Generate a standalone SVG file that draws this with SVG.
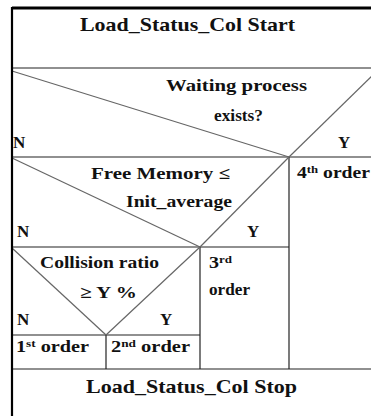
<svg xmlns="http://www.w3.org/2000/svg" width="371" height="416" viewBox="0 0 371 416">
<style>
text{font-family:"Liberation Serif","Times New Roman",serif;font-weight:bold;font-size:17px;fill:#111}
.big{font-size:19px}
.sup{font-size:11px}
.sep{stroke:#222;stroke-width:1.2;fill:none}
.diag{stroke:#666;stroke-width:1.2;fill:none}
.frame{stroke:#000;fill:none}
</style>
<rect width="371" height="416" fill="#fff"/>
<g id="connectors">
<line class="sep" x1="12" y1="68" x2="371" y2="68"/>
<line class="sep" x1="12" y1="157" x2="371" y2="157"/>
<line class="sep" x1="12" y1="247" x2="289" y2="247"/>
<line class="sep" x1="12" y1="335" x2="200" y2="335"/>
<line class="sep" x1="12" y1="369" x2="371" y2="369"/>
<line class="sep" x1="289" y1="157" x2="289" y2="369"/>
<line class="sep" x1="200" y1="247" x2="200" y2="369"/>
<line class="sep" x1="106" y1="335" x2="106" y2="369"/>
<line class="diag" x1="12" y1="71" x2="289" y2="157"/>
<line class="diag" x1="289" y1="157" x2="374" y2="74"/>
<line class="diag" x1="12" y1="158" x2="200" y2="247"/>
<line class="diag" x1="200" y1="247" x2="289" y2="157"/>
<line class="diag" x1="12" y1="248" x2="106" y2="335"/>
<line class="diag" x1="106" y1="335" x2="200" y2="247"/>
</g>
<g id="frame">
<line class="frame" x1="12" y1="8" x2="371" y2="8" stroke-width="3"/>
<line class="frame" x1="12" y1="7" x2="12" y2="416" stroke-width="2.2"/>
</g>
<g id="start">
<text class="big" x="80" y="31" textLength="215" lengthAdjust="spacingAndGlyphs">Load_Status_Col Start</text>
</g>
<g id="decision1">
<text x="166" y="91" textLength="141" lengthAdjust="spacingAndGlyphs">Waiting  process</text>
<text x="214" y="121" textLength="49" lengthAdjust="spacingAndGlyphs">exists?</text>
<text x="13" y="148">N</text>
<text x="338" y="148">Y</text>
</g>
<g id="order4">
<text x="297" y="178" textLength="73" lengthAdjust="spacingAndGlyphs">4<tspan class="sup" dy="-5">th</tspan><tspan dy="5"> order</tspan></text>
</g>
<g id="decision2">
<text x="91" y="179" textLength="139" lengthAdjust="spacingAndGlyphs">Free Memory ≤</text>
<text x="126" y="207" textLength="106" lengthAdjust="spacingAndGlyphs">Init_average</text>
<text x="17" y="237">N</text>
<text x="247" y="237">Y</text>
</g>
<g id="order3">
<text x="209" y="268" textLength="23" lengthAdjust="spacingAndGlyphs">3<tspan class="sup" dy="-5">rd</tspan></text>
<text x="209" y="295" textLength="41" lengthAdjust="spacingAndGlyphs">order</text>
</g>
<g id="decision3">
<text x="40" y="268" textLength="119" lengthAdjust="spacingAndGlyphs">Collision ratio</text>
<text x="80" y="298" textLength="57" lengthAdjust="spacingAndGlyphs">≥ Y %</text>
<text x="17" y="325">N</text>
<text x="160" y="325">Y</text>
</g>
<g id="order1">
<text x="16" y="352" textLength="73" lengthAdjust="spacingAndGlyphs">1<tspan class="sup" dy="-5">st</tspan><tspan dy="5"> order</tspan></text>
</g>
<g id="order2">
<text x="111" y="352" textLength="79" lengthAdjust="spacingAndGlyphs">2<tspan class="sup" dy="-5">nd</tspan><tspan dy="5"> order</tspan></text>
</g>
<g id="stop">
<text class="big" x="86" y="393" textLength="211" lengthAdjust="spacingAndGlyphs">Load_Status_Col Stop</text>
</g>
</svg>
